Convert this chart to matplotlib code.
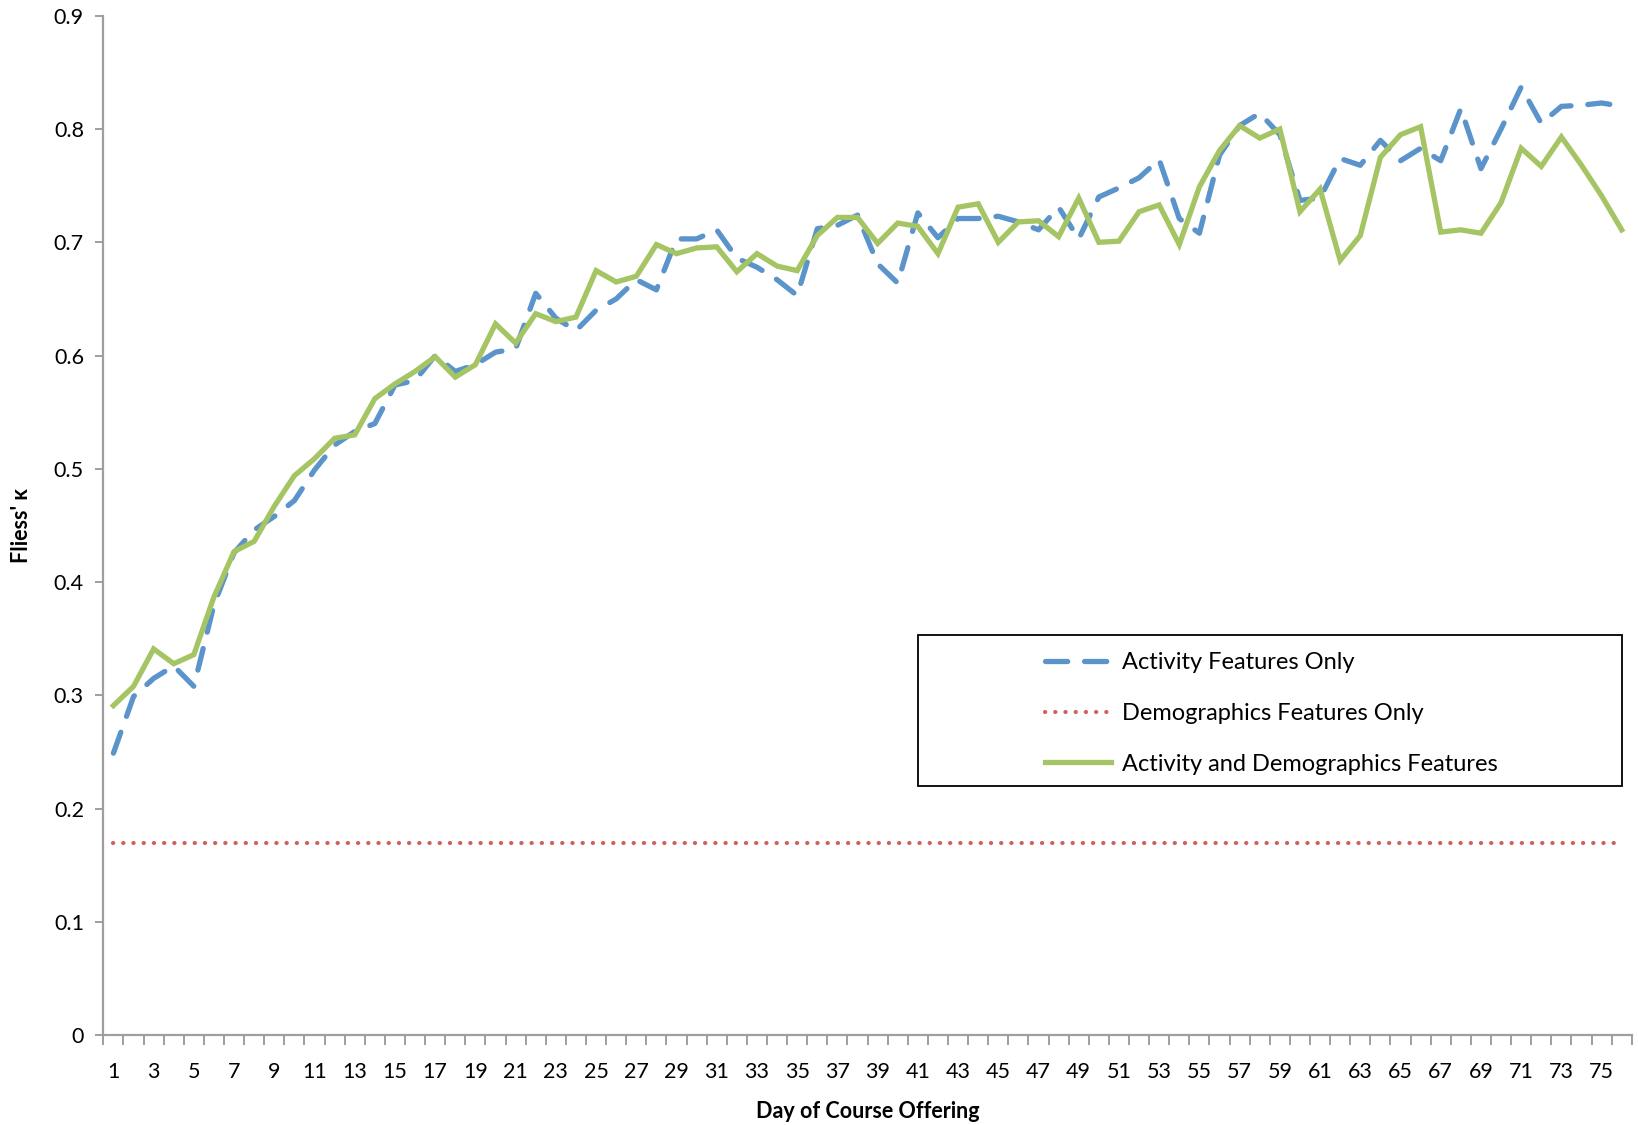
import numpy as np
import matplotlib
matplotlib.use('Agg')
import matplotlib.pyplot as plt
from matplotlib.patches import Rectangle

plt.rcParams['font.family'] = ['Lato', 'DejaVu Sans']

# Данные
days = list(range(1, 77))

activity = [
    0.249, 0.299, 0.315, 0.326, 0.308, 0.380, 0.426, 0.446, 0.458, 0.472,
    0.499, 0.521, 0.533, 0.540, 0.574, 0.578, 0.600, 0.586, 0.592, 0.603,
    0.606, 0.655, 0.633, 0.622, 0.640, 0.650, 0.667, 0.658, 0.703, 0.703,
    0.711, 0.686, 0.678, 0.667, 0.653, 0.712, 0.715, 0.724, 0.681, 0.664,
    0.726, 0.704, 0.721, 0.721, 0.723, 0.718, 0.711, 0.731, 0.703, 0.740,
    0.748, 0.757, 0.773, 0.721, 0.708, 0.777, 0.803, 0.814, 0.795, 0.737,
    0.739, 0.774, 0.768, 0.790, 0.772, 0.783, 0.772, 0.818, 0.765, 0.800,
    0.837, 0.805, 0.820, 0.821, 0.823, 0.820,
]

combined = [
    0.291, 0.308, 0.341, 0.328, 0.336, 0.387, 0.427, 0.436, 0.467, 0.494,
    0.509, 0.527, 0.530, 0.562, 0.575, 0.586, 0.599, 0.581, 0.592, 0.628,
    0.611, 0.637, 0.630, 0.634, 0.675, 0.665, 0.670, 0.698, 0.690, 0.695,
    0.696, 0.674, 0.690, 0.679, 0.675, 0.706, 0.722, 0.722, 0.699, 0.717,
    0.714, 0.690, 0.731, 0.734, 0.700, 0.718, 0.719, 0.705, 0.739, 0.700,
    0.701, 0.727, 0.733, 0.698, 0.749, 0.781, 0.803, 0.792, 0.800, 0.727,
    0.747, 0.684, 0.706, 0.775, 0.795, 0.802, 0.709, 0.711, 0.708, 0.735,
    0.783, 0.767, 0.793, 0.768, 0.741, 0.711,
]

demographics_value = 0.17
demographics = [demographics_value] * len(days)

labels = ['Activity Features Only', 'Demographics Features Only',
          'Activity and Demographics Features']

blue = '#5B93CB'
red = '#D0605C'
green = '#A5C463'
gray = '#9E9E9E'

fig = plt.figure(figsize=(16.38, 11.25), dpi=100)
ax = fig.add_axes([0.0631, 0.0798, 0.9331, 0.9062])

x = np.arange(len(days))
l1, = ax.plot(x, activity, color=blue, lw=3.8, linestyle=(0, (4.2, 3.2)),
              dash_capstyle='round', label=labels[0], zorder=3)
l2, = ax.plot(x, demographics, color=red, lw=3.0, linestyle=(0, (0.05, 2.4)),
              dash_capstyle='round', label=labels[1], zorder=2)
l3, = ax.plot(x, combined, color=green, lw=3.8, solid_joinstyle='miter',
              label=labels[2], zorder=4)

ax.set_xlim(-0.5, len(days) - 0.5)
ax.set_ylim(0, 0.9)

# оси в стиле Excel
for s in ['top', 'right']:
    ax.spines[s].set_visible(False)
for s in ['left', 'bottom']:
    ax.spines[s].set_color(gray)
    ax.spines[s].set_linewidth(1.6)

ax.set_yticks(np.arange(0, 0.91, 0.1))
ax.set_yticklabels(['0'] + [f'{v:.1f}' for v in np.arange(0.1, 0.91, 0.1)])
ax.tick_params(axis='y', direction='out', length=6, width=1.4, color=gray,
               labelsize=15.5, pad=8)

ax.set_xticks(np.arange(-0.5, len(days), 1.0))
ax.set_xticklabels([])
ax.tick_params(axis='x', which='major', direction='out', length=7, width=1.4,
               color=gray)
odd_idx = [i for i, d in enumerate(days) if d % 2 == 1]
ax.set_xticks(odd_idx, minor=True)
ax.set_xticklabels([str(days[i]) for i in odd_idx], minor=True)
ax.tick_params(axis='x', which='minor', length=0, labelsize=15.5, pad=19)

ax.set_xlabel('Day of Course Offering', fontsize=15.5, fontweight='bold', labelpad=14)
ax.set_ylabel("Fliess' κ", fontsize=15.5, fontweight='bold', labelpad=16)

# легенда с рамкой
leg = fig.legend(handles=[l1, l2, l3], loc='upper left',
                 bbox_to_anchor=(0.625, 0.4391), frameon=False, fontsize=17,
                 handlelength=2.8, handletextpad=0.45, labelspacing=1.26)
fig.add_artist(Rectangle((0.5604, 0.3013), 0.4298, 0.1342, transform=fig.transFigure,
                         fill=False, edgecolor='black', linewidth=1.3))

fig.savefig('out.png', dpi=100)
